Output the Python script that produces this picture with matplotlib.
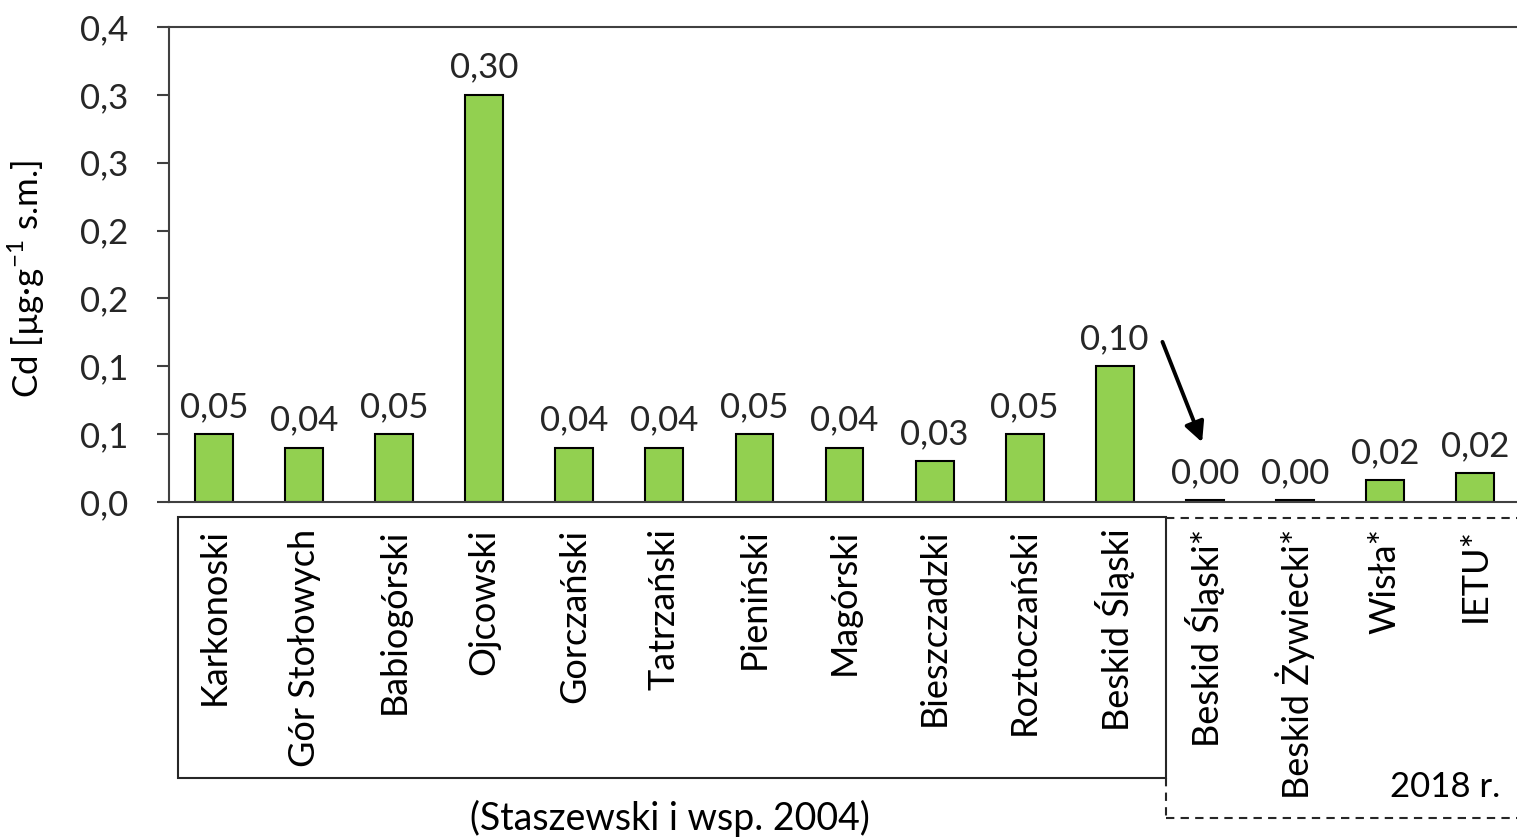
import math
import matplotlib
matplotlib.use("Agg")
import matplotlib.pyplot as plt
from matplotlib.patches import Rectangle
from matplotlib.lines import Line2D

plt.rcParams['font.family'] = ['Lato', 'DejaVu Sans']
plt.rcParams['mathtext.fontset'] = 'custom'
plt.rcParams['mathtext.rm'] = 'Lato'

# data
categories = ['Karkonoski', 'Gór Stołowych', 'Babiogórski', 'Ojcowski', 'Gorczański',
              'Tatrzański', 'Pieniński', 'Magórski', 'Bieszczadzki', 'Roztoczański',
              'Beskid Śląski', 'Beskid Śląski*', 'Beskid Żywiecki*', 'Wisła*', 'IETU*']
cd_values = [0.05, 0.04, 0.05, 0.30, 0.04, 0.04, 0.05, 0.04, 0.03, 0.05,
             0.10, 0.0015, 0.0015, 0.016, 0.021]
y_ticks = [0.0, 0.05, 0.10, 0.15, 0.20, 0.25, 0.30, 0.35]

bar_color = '#92d050'
axis_color = '#404040'
fs = 25


def fmt1(v):
    return '{:.1f}'.format(math.floor(v * 10 + 0.5 + 1e-9) / 10).replace('.', ',')


def fmt2(v):
    return '{:.2f}'.format(math.floor(v * 100 + 0.5 + 1e-9) / 100).replace('.', ',')


fig = plt.figure(figsize=(15.17, 8.38), dpi=100)
ax = fig.add_axes([169 / 1517, 1 - 502 / 838, 1 - 169 / 1517 + 0.002, (502 - 27) / 838])

x = list(range(len(categories)))
bars = ax.bar(x, cd_values, width=0.42, color=bar_color, edgecolor='black', linewidth=1.5)

for xi, v in zip(x, cd_values):
    ax.annotate(fmt2(v), (xi, v), xytext=(0, 8), textcoords='offset points',
                ha='center', va='bottom', fontsize=fs, color='#262626')

ax.set_xlim(-0.5, 14.5)
ax.set_ylim(0, 0.35)
ax.set_yticks(y_ticks)
ax.set_yticklabels([fmt1(t) for t in y_ticks])
ax.set_xticks(x)
ax.set_xticklabels(categories, rotation=90, va='top')
ax.tick_params(axis='y', length=9, width=1.5, color=axis_color, pad=20, labelsize=fs,
               labelcolor='#262626')
ax.tick_params(axis='x', length=0, pad=19, labelsize=26, labelcolor='black')

for side in ['left', 'bottom', 'top']:
    ax.spines[side].set_color(axis_color)
    ax.spines[side].set_linewidth(1.5)
ax.spines['right'].set_visible(False)

ax.set_ylabel(r'Cd [µg·g$^{-1}$ s.m.]', fontsize=fs)
ax.yaxis.set_label_coords(-0.09, 0.47)

# arrow to the 0,00 bar
ax.annotate('', xy=(10.97, 0.044), xytext=(10.53, 0.118),
            arrowprops=dict(arrowstyle='-|>', color='black', lw=2.8, mutation_scale=30,
                            shrinkA=0, shrinkB=0))

# boxes around category groups
fig.add_artist(Rectangle((178 / 1517, 1 - 778 / 838), (1166 - 178) / 1517, (778 - 517) / 838,
                         transform=fig.transFigure, fill=False, edgecolor='#262626', lw=1.5))
dash = dict(transform=fig.transFigure, color='#262626', lw=1.5, linestyle=(0, (4, 3)))
fig.add_artist(Line2D([1166 / 1517, 1.0], [1 - 518 / 838, 1 - 518 / 838], **dash))
fig.add_artist(Line2D([1166 / 1517, 1.0], [1 - 818 / 838, 1 - 818 / 838], **dash))
fig.add_artist(Line2D([1166 / 1517, 1166 / 1517], [1 - 778 / 838, 1 - 818 / 838], **dash))

fig.text(1500 / 1517, 1 - 787 / 838, '2018 r.', ha='right', va='center', fontsize=fs)
fig.text(670 / 1517, 1 - 818 / 838, '(Staszewski i wsp. 2004)', ha='center', va='center',
         fontsize=27)

fig.savefig('out.png', dpi=100)
